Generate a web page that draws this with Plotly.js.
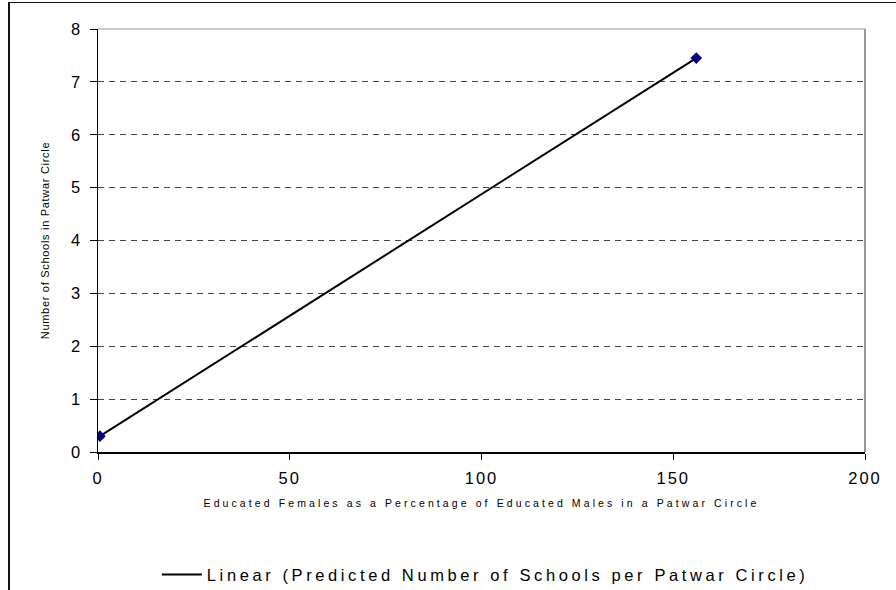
<!DOCTYPE html>
<html>
<head>
<meta charset="utf-8">
<script src="https://cdn.plot.ly/plotly-3.0.1.min.js"></script>
<style>
html,body{margin:0;padding:0;background:#fff;}
#wrap{position:relative;width:896px;height:590px;overflow:hidden;}
#chart{width:896px;height:590px;}
#frame{position:absolute;left:8px;top:2px;width:1000px;height:1000px;border-left:2px solid #111;border-top:1.5px solid #111;pointer-events:none;}
.xtitle{letter-spacing:3.1px;}
.ytitle{letter-spacing:0.7px;}
.legendtext{letter-spacing:3.6px;}
.xtick text{letter-spacing:2px;}
</style>
</head>
<body>
<div id="wrap"><div id="chart"></div><div id="frame"></div></div>
<script>
// data
const femalePct = [0.5, 156];
const schools = [0.3, 7.45];
const xTickVals = [0, 50, 100, 150, 200];
const yTickVals = [0, 1, 2, 3, 4, 5, 6, 7, 8];
const legendName = 'Linear (Predicted Number of Schools per Patwar Circle)';

const traces = [
  {
    x: femalePct, y: schools, type: 'scatter', mode: 'lines',
    name: legendName,
    line: {color: '#000000', width: 2},
    showlegend: true
  },
  {
    x: femalePct, y: schools, type: 'scatter', mode: 'markers',
    name: 'Observed',
    marker: {symbol: 'diamond', color: '#000080', size: 9},
    showlegend: false
  }
];

const layout = {
  width: 896, height: 590,
  margin: {l: 98, r: 31, t: 29, b: 138, autoexpand: false},
  paper_bgcolor: '#ffffff', plot_bgcolor: '#ffffff',
  font: {family: 'Arial, "Liberation Sans", sans-serif', color: '#000'},
  showlegend: true,
  legend: {
    orientation: 'h', x: 0.505, xanchor: 'center', y: -0.29, yanchor: 'middle',
    font: {size: 16.5, color: '#000'}, bgcolor: 'rgba(0,0,0,0)', itemwidth: 40
  },
  xaxis: {
    range: [0, 200], tickvals: xTickVals, ticks: 'outside', ticklen: 6, tickwidth: 1,
    tickcolor: '#000', showline: true, linecolor: '#000', linewidth: 1.5,
    showgrid: false, zeroline: false, ticklabelstandoff: 5,
    tickfont: {size: 16.5, color: '#000'},
    title: {text: 'Educated Females as a Percentage of Educated Males in a Patwar Circle',
            font: {size: 10.5, color: '#000'}, standoff: 13}
  },
  yaxis: {
    range: [0, 8], tickvals: yTickVals, ticks: 'outside', ticklen: 7, tickwidth: 1,
    tickcolor: '#000', showline: true, linecolor: '#000', linewidth: 1.5,
    showgrid: true, gridcolor: '#444', griddash: '6px,5px', gridwidth: 1,
    zeroline: false, ticklabelstandoff: 6,
    tickfont: {size: 16.5, color: '#000'},
    title: {text: 'Number of Schools in Patwar Circle', font: {size: 11, color: '#000'}, standoff: 19}
  },
  shapes: [
    {type: 'line', xref: 'paper', yref: 'paper', x0: 0, x1: 1, y0: 1, y1: 1, line: {color: '#bbbbbb', width: 1.5}},
    {type: 'line', xref: 'paper', yref: 'paper', x0: 1, x1: 1, y0: 0, y1: 1, line: {color: '#999999', width: 2}}
  ]
};

Plotly.newPlot('chart', traces, layout, {displayModeBar: false, staticPlot: true});
</script>
</body>
</html>
